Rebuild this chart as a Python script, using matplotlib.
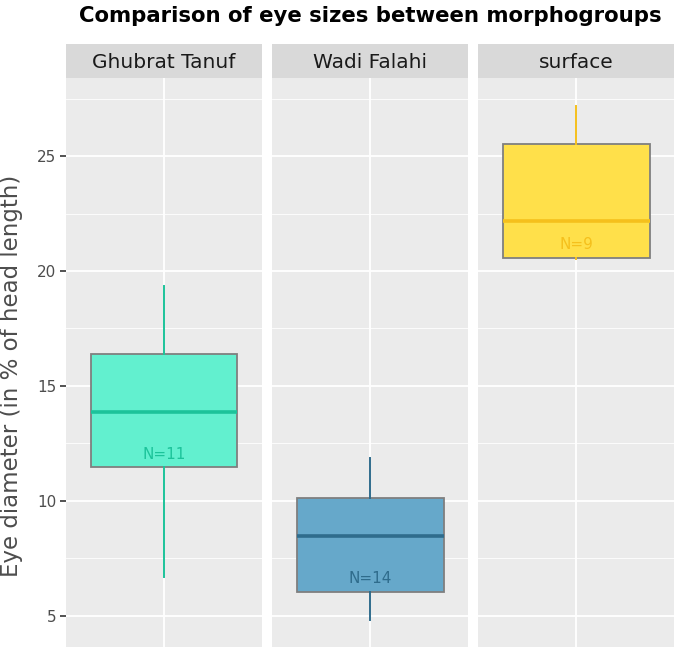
import matplotlib
matplotlib.use("Agg")
import matplotlib.pyplot as plt

# data
groups = ["Ghubrat Tanuf", "Wadi Falahi", "surface"]
whis_lo = [6.68, 4.80, 20.5]
q1 = [11.47, 6.03, 20.58]
medians = [13.84, 8.48, 22.17]
q3 = [16.39, 10.10, 25.52]
whis_hi = [19.35, 11.86, 27.2]
n_obs = [11, 14, 9]
label_y = [12.0, 6.6, 21.16]

fills = ["#62F0CF", "#66A8CA", "#FFE04A"]
lines = ["#1CC39A", "#2F6C8C", "#F5C01C"]

W, H = 675, 647
fig = plt.figure(figsize=(W / 100, H / 100), dpi=100)
fig.patch.set_facecolor("white")

ymin, ymax = 3.63, 28.4
lefts = [66, 272, 478]
pw = 196
top = 78
strip_h = 34

for i, g in enumerate(groups):
    ax = fig.add_axes([lefts[i] / W, 0, pw / W, 1 - top / H])
    ax.set_facecolor("#EBEBEB")
    ax.set_xlim(0.4, 1.6)
    ax.set_ylim(ymin, ymax)
    for s in ax.spines.values():
        s.set_visible(False)
    # grid
    for y in [7.5, 12.5, 17.5, 22.5, 27.5]:
        ax.axhline(y, color="white", lw=0.6, zorder=0)
    for y in [5, 10, 15, 20, 25]:
        ax.axhline(y, color="white", lw=1.3, zorder=0)
    ax.axvline(1, color="white", lw=1.3, zorder=0)

    stats = [dict(whislo=whis_lo[i], q1=q1[i], med=medians[i], q3=q3[i],
                  whishi=whis_hi[i], fliers=[])]
    ax.bxp(stats, positions=[1], widths=0.9, patch_artist=True, showcaps=False,
           boxprops=dict(facecolor=fills[i], edgecolor="#7F7F7F", lw=1.3),
           medianprops=dict(color=lines[i], lw=2.6),
           whiskerprops=dict(color=lines[i], lw=1.4), zorder=2)
    ax.text(1, label_y[i], "N=%d" % n_obs[i], color=lines[i], ha="center",
            va="center", fontsize=11, zorder=3)

    ax.set_xticks([])
    if i == 0:
        ax.set_yticks([5, 10, 15, 20, 25])
        ax.tick_params(axis="y", length=4, width=1.2, color="#333333",
                       labelcolor="#4D4D4D", labelsize=11, pad=3)
    else:
        ax.set_yticks([])

    # strip
    sax = fig.add_axes([lefts[i] / W, 1 - (top) / H, pw / W, strip_h / H])
    sax.set_facecolor("#D9D9D9")
    sax.set_xticks([])
    sax.set_yticks([])
    for s in sax.spines.values():
        s.set_visible(False)
    sax.text(0.5, 0.45, g, ha="center", va="center", fontsize=14.5,
             color="#1A1A1A", transform=sax.transAxes)

fig.text(12 / W, 1 - 376 / H, "Eye diameter (in % of head length)",
         rotation=90, ha="center", va="center", fontsize=16.5, color="#4D4D4D")
fig.text(370 / W, 1 - 16 / H, "Comparison of eye sizes between morphogroups",
         ha="center", va="center", fontsize=15.3, fontweight="bold")

fig.savefig("out.png", dpi=100)
